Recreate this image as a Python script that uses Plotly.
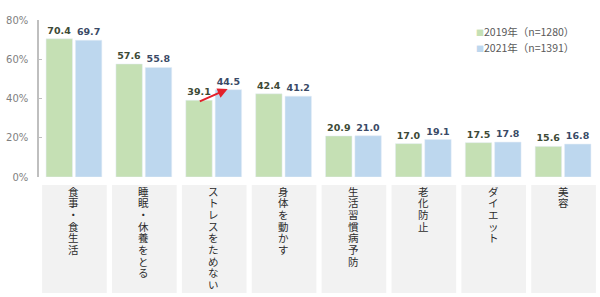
import plotly.graph_objects as go

categories = ["食事・食生活", "睡眠・休養をとる", "ストレスをためない", "身体を動かす",
              "生活習慣病予防", "老化防止", "ダイエット", "美容"]
v2019 = [70.4, 57.6, 39.1, 42.4, 20.9, 17.0, 17.5, 15.6]
v2021 = [69.7, 55.8, 44.5, 41.2, 21.0, 19.1, 17.8, 16.8]
series_names = ["2019年（n=1280）", "2021年（n=1391）"]
y_ticks = [0, 20, 40, 60, 80]
y_ticklabels = ["0%", "20%", "40%", "60%", "80%"]

GREEN = "#c5e0b4"
BLUE = "#bdd7ee"
LBL_G = "#3d4a36"
LBL_B = "#3a4a66"

H_PLOT = 157  # px height of plot area

fig = go.Figure()
idx = list(range(len(categories)))
fig.add_trace(go.Bar(x=idx, y=v2019, name=series_names[0], marker_color=GREEN,
                     text=[f"{v:.1f}" for v in v2019], textposition="outside",
                     textfont=dict(family="DejaVu Sans", size=9.5, color=LBL_G),
                     cliponaxis=False, showlegend=False))
fig.add_trace(go.Bar(x=idx, y=v2021, name=series_names[1], marker_color=BLUE,
                     text=[f"{v:.1f}" for v in v2021], textposition="outside",
                     textfont=dict(family="DejaVu Sans", size=9.5, color=LBL_B),
                     cliponaxis=False, showlegend=False))

fig.update_traces(texttemplate="<b>%{text}</b>")

shapes = []
annotations = []
box_top = -8 / H_PLOT
box_bot = -116 / H_PLOT
pitch = 11.7
first_c = 14.0
for i, cat in enumerate(categories):
    shapes.append(dict(type="rect", xref="x", yref="paper",
                       x0=i - 0.5 + 0.045, x1=i + 0.5 - 0.03, y0=box_bot, y1=box_top,
                       fillcolor="#f2f2f2", line=dict(width=0), layer="below"))
    for j, ch in enumerate(cat):
        annotations.append(dict(x=i, y=-(first_c + j * pitch) / H_PLOT, xref="x", yref="paper",
                                text=ch, showarrow=False, xanchor="center", yanchor="middle",
                                borderpad=0,
                                font=dict(family="Noto Sans CJK JP", size=10.5, color="#2b2b2b")))

# legend (manual)
for k, (nm, col) in enumerate(zip(series_names, [GREEN, BLUE])):
    annotations.append(dict(x=(474 - 39) / 559, y=(177 - (31 + 17 * k)) / H_PLOT,
                            xref="paper", yref="paper", xanchor="left", yanchor="middle",
                            showarrow=False,
                            text=f"<span style='color:{col};font-size:8px'>■</span>{nm}",
                            font=dict(family="Noto Sans CJK JP", size=10.5, color="#595959")))

# red arrow between 2019 and 2021 for ストレスをためない
annotations.append(dict(x=2 + 0.2, y=v2021[2] + 0.3, ax=2 - 0.22, ay=v2019[2] - 0.9,
                        xref="x", yref="y", axref="x", ayref="y",
                        text="", showarrow=True, arrowhead=2, arrowsize=1.0,
                        arrowwidth=2, arrowcolor="#e3202b"))

fig.update_layout(
    width=600, height=297,
    margin=dict(l=39, r=2, t=20, b=120),
    paper_bgcolor="white", plot_bgcolor="white",
    barmode="group", bargap=0.16, bargroupgap=0.1,
    shapes=shapes, annotations=annotations,
    xaxis=dict(range=[-0.5, len(categories) - 0.5], showticklabels=False, showgrid=False,
               zeroline=False, showline=False, ticks=""),
    yaxis=dict(range=[0, 80], tickvals=y_ticks, ticktext=y_ticklabels, showgrid=False,
               zeroline=False, showline=True, linecolor="#bfbfbf", linewidth=1.5,
               ticks="inside", ticklen=3, tickcolor="#bfbfbf",
               ticklabelstandoff=7,
               tickfont=dict(family="DejaVu Sans", size=10, color="#7f7f7f")),
)

fig.write_html("out.html")
